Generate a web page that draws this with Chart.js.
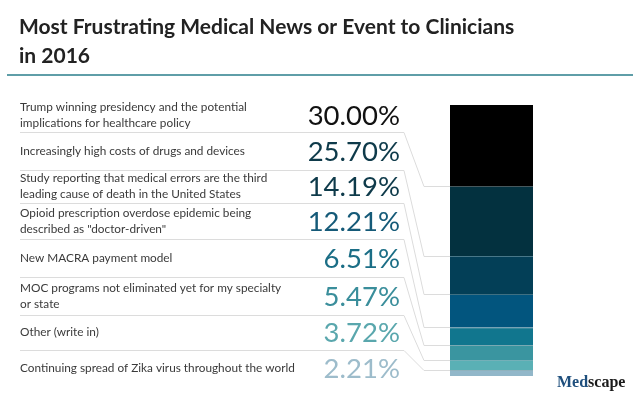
<!DOCTYPE html>
<html>
<head>
<meta charset="utf-8">
<title>Most Frustrating Medical News or Event to Clinicians in 2016</title>
<script src="https://cdn.jsdelivr.net/npm/chart.js@4.4.1/dist/chart.umd.min.js"></script>
<style>
    html, body { margin: 0; padding: 0; background: #ffffff; }
    #wrap { width: 640px; height: 407px; }
</style>
</head>
<body>
<div id="wrap"><canvas id="frustrationChart" width="640" height="407"></canvas></div>
<script>
// Dữ liệu biểu đồ
const titleLines = ['Most Frustrating Medical News or Event to Clinicians', 'in 2016'];
const answers = [
    ['Trump winning presidency and the potential', 'implications for healthcare policy'],
    ['Increasingly high costs of drugs and devices'],
    ['Study reporting that medical errors are the third', 'leading cause of death in the United States'],
    ['Opioid prescription overdose epidemic being', 'described as "doctor-driven"'],
    ['New MACRA payment model'],
    ['MOC programs not eliminated yet for my specialty', 'or state'],
    ['Other (write in)'],
    ['Continuing spread of Zika virus throughout the world']
];
const shares = [30.00, 25.70, 14.19, 12.21, 6.51, 5.47, 3.72, 2.21];
const shareLabels = ['30.00%', '25.70%', '14.19%', '12.21%', '6.51%', '5.47%', '3.72%', '2.21%'];
const barColors = ['#000000', '#03313f', '#033f57', '#02557e', '#11768e', '#3a95a0', '#5ab0b5', '#92b7c9'];
const valueColors = ['#111111', '#0e3a4a', '#0e3a4a', '#155a78', '#1b6e86', '#3a8e9b', '#5aa7ad', '#9dbccb'];

// Bố cục (không phải dữ liệu)
const rowLines = [132, 170, 203, 239, 277, 315, 350];
const rowTop = 98, rowBottom = 386;
const labelFont = '11.8px Lato, "Open Sans", sans-serif';
const valueFont = '27.5px Lato, "Open Sans", sans-serif';
const titleFont = 'bold 21px Lato, "Open Sans", sans-serif';

// Plugin vẽ tiêu đề, nhãn, phần trăm và đường nối
const infographicPlugin = {
    id: 'infographic',
    beforeDatasetsDraw(chart) {
        const ctx = chart.ctx;
        const yScale = chart.scales.y;
        const left = chart.chartArea.left;
        ctx.save();
        ctx.strokeStyle = '#dcdcdc';
        ctx.lineWidth = 1;
        let sum = 0;
        rowLines.forEach((y, i) => {
            sum += shares[i];
            const by = Math.round(yScale.getPixelForValue(sum)) + 0.5;
            ctx.beginPath();
            ctx.moveTo(20, y + 0.5);
            ctx.lineTo(404, y + 0.5);
            ctx.lineTo(424, by);
            ctx.lineTo(left, by);
            ctx.stroke();
        });
        ctx.restore();
    },
    afterDraw(chart) {
        const ctx = chart.ctx;
        ctx.save();
        // Tiêu đề
        ctx.fillStyle = '#222222';
        ctx.font = titleFont;
        ctx.textBaseline = 'alphabetic';
        ctx.textAlign = 'left';
        ctx.fillText(titleLines[0], 19, 34);
        ctx.fillText(titleLines[1], 19, 63);
        ctx.fillStyle = '#5f9ea8';
        ctx.fillRect(7, 74, 626, 2);

        // Nhãn và phần trăm
        const edges = [rowTop].concat(rowLines, [rowBottom]);
        answers.forEach((lines, i) => {
            const cy = (edges[i] + edges[i + 1]) / 2;
            ctx.fillStyle = '#3a3a3a';
            ctx.font = labelFont;
            ctx.textAlign = 'left';
            ctx.textBaseline = 'middle';
            const start = cy - (lines.length - 1) * 8;
            lines.forEach((t, j) => ctx.fillText(t, 20, start + j * 16));
            ctx.fillStyle = valueColors[i];
            ctx.font = valueFont;
            ctx.textAlign = 'right';
            ctx.fillText(shareLabels[i], 400, cy + 1);
        });

        // Logo Medscape
        ctx.textAlign = 'left';
        ctx.textBaseline = 'alphabetic';
        ctx.font = 'bold 16px "Liberation Serif", serif';
        ctx.fillStyle = '#1f4f7d';
        ctx.fillText('Med', 557, 387);
        const w = ctx.measureText('Med').width;
        ctx.fillStyle = '#1a1a1a';
        ctx.fillText('scape', 557 + w, 387);
        ctx.restore();
    }
};

const ctx = document.getElementById('frustrationChart').getContext('2d');
const frustrationChart = new Chart(ctx, {
    type: 'bar',
    data: {
        labels: ['2016'],
        datasets: shares.map((v, i) => ({
            label: answers[i].join(' '),
            data: [v],
            backgroundColor: barColors[i],
            borderColor: '#8fb0ba',
            borderWidth: { top: i === 0 ? 0 : 1, right: 0, bottom: 0, left: 0 },
            borderSkipped: false,
            barPercentage: 1,
            categoryPercentage: 1
        }))
    },
    options: {
        responsive: false,
        animation: false,
        layout: { padding: { left: 450, right: 107, top: 105, bottom: 31 } },
        scales: {
            x: { display: false, stacked: true },
            y: { display: false, stacked: true, reverse: true, min: 0, max: 100.01 }
        },
        plugins: {
            legend: { display: false },
            tooltip: { enabled: false },
            title: { display: false }
        }
    },
    plugins: [infographicPlugin]
});
</script>
</body>
</html>
